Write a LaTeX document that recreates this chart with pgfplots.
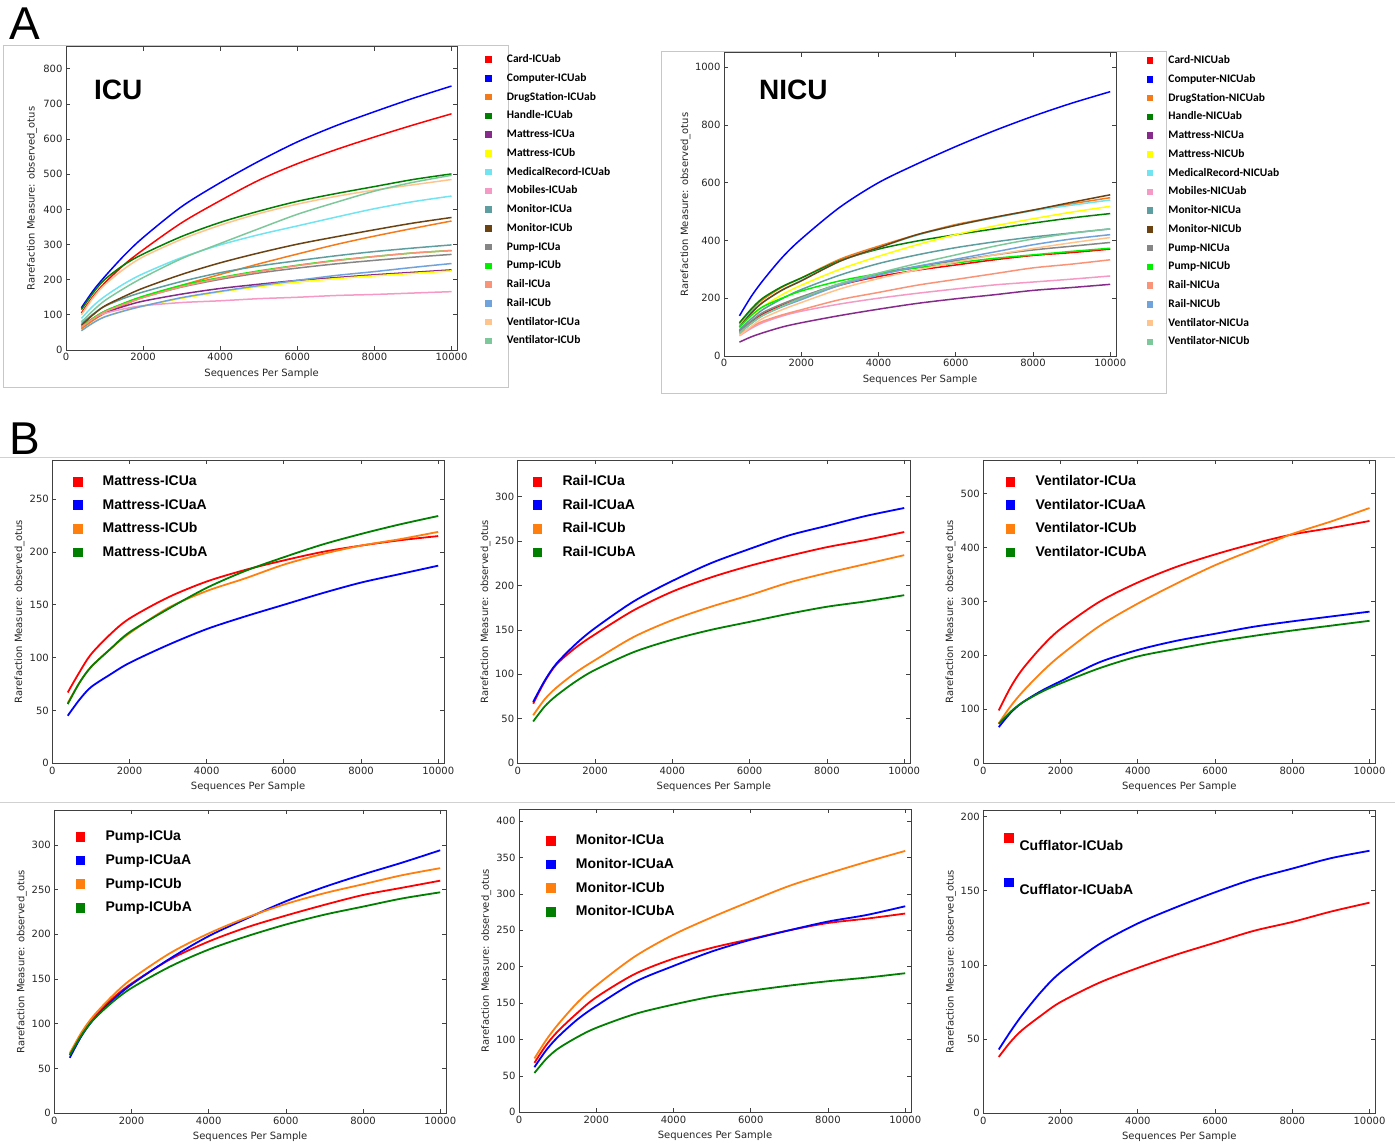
\documentclass[border=0pt]{standalone}
\usepackage{fontspec}
\setmainfont{DejaVu Sans}
\newfontfamily\carlito{Carlito}
\newfontfamily\libsans{Liberation Sans}
\usepackage{pgfplots}
\usepackage{pgfplotstable}
\pgfplotsset{compat=1.18}

\definecolor{cRed}{HTML}{FF0000}
\definecolor{cBlue}{HTML}{0000FF}
\definecolor{cOrange}{HTML}{F57A1A}
\definecolor{cOrB}{HTML}{FF7F0E}
\definecolor{cGreen}{HTML}{007F00}
\definecolor{cPurple}{HTML}{862A8C}
\definecolor{cYellow}{HTML}{FFFF00}
\definecolor{cCyan}{HTML}{70E4F0}
\definecolor{cPink}{HTML}{F49AC4}
\definecolor{cCadet}{HTML}{5F9EA0}
\definecolor{cBrown}{HTML}{6B4212}
\definecolor{cGray}{HTML}{868686}
\definecolor{cLime}{HTML}{00F000}
\definecolor{cSalmon}{HTML}{FA9478}
\definecolor{cLBlue}{HTML}{70A2DC}
\definecolor{cPeach}{HTML}{FFC48C}
\definecolor{cLGreen}{HTML}{7CC89A}

\pgfplotstableread{
x card comp drug hand matA matB med mob monA monB pumpA pumpB railA railB ventA ventB
400 105 120 60 115 65 55 90 70 75 70 65 65 65 55 100 80
700 152 168 84 162 88 77 125 90 102 100 90 90 88 77 148 112
1000 190 208 104 200 105 94 152 104 124 125 110 110 108 94 185 140
1500 242 268 128 242 124 111 188 117 147 152 132 133 130 111 230 175
2000 285 320 150 273 139 125 217 126 165 176 150 153 149 125 265 206
3000 362 408 184 323 159 147 263 135 195 215 179 184 180 149 315 260
4000 425 476 215 363 175 165 299 140 220 248 201 206 204 167 355 303
5000 483 537 245 395 187 180 328 146 239 276 219 225 223 183 388 345
6000 530 592 273 423 198 193 353 150 254 301 233 241 240 198 415 386
7000 570 638 300 445 206 203 378 155 268 322 245 255 254 212 437 420
8000 606 678 324 465 214 211 402 158 280 342 255 266 266 223 455 452
9000 640 716 346 485 221 218 422 162 290 361 264 276 276 235 470 477
10000 672 751 367 501 228 225 438 166 299 377 272 283 283 246 485 497
}\icu

\pgfplotstableread{
x card comp drug hand matA matB med mob monA monB pumpA pumpB railA railB ventA ventB
400 85 139 110 115 48 95 105 70 90 100 85 100 75 80 70 80
700 118 205 158 162 66 137 150 95 128 148 120 140 100 112 102 112
1000 145 260 195 200 80 170 185 115 160 185 150 170 120 140 130 140
1500 175 340 238 240 100 212 228 138 198 228 180 200 142 170 160 172
2000 200 405 270 270 115 245 262 155 230 260 205 225 160 195 185 200
3000 245 515 335 330 140 300 328 180 280 328 250 260 195 245 232 250
4000 275 600 380 370 162 345 375 200 320 375 285 285 220 280 268 287
5000 297 665 420 398 182 385 418 217 350 420 310 305 245 310 298 320
6000 315 725 455 420 198 420 452 232 375 452 330 322 265 335 325 350
7000 333 780 480 440 212 450 478 246 395 480 350 338 285 360 350 380
8000 348 830 505 460 227 475 503 256 412 505 367 350 305 385 372 405
9000 358 875 527 478 237 498 522 266 426 532 380 362 318 405 392 425
10000 370 915 548 493 248 518 540 277 440 558 393 373 333 420 410 440
}\nicu

\pgfplotstableread{
x a aA b bA
400 67 45 57 56
700 86 60 76 76
1000 103 72 91 91
1500 122 84 108 108
2000 137 95 123 124
3000 157 112 147 146
4000 172 127 163 166
5000 183 139 175 182
6000 192 150 188 195
7000 200 161 198 207
8000 206 171 206 217
9000 211 179 212 226
10000 215 187 219 234
}\mattress

\pgfplotstableread{
x a aA b bA
400 67 69 54 47
700 92 93 72 64
1000 111 112 85 76
1500 130 134 102 92
2000 145 152 116 105
3000 172 182 142 125
4000 193 205 161 139
5000 209 225 176 150
6000 222 241 189 159
7000 233 256 203 168
8000 243 267 214 176
9000 251 278 224 182
10000 260 287 234 189
}\rail

\pgfplotstableread{
x a aA b bA
400 98 67 74 73
700 140 93 105 95
1000 173 112 131 112
1500 215 134 168 132
2000 249 152 200 148
3000 299 187 254 176
4000 335 210 296 198
5000 364 227 333 212
6000 387 240 367 225
7000 407 253 396 236
8000 424 263 425 246
9000 436 272 448 255
10000 449 281 473 264
}\vent

\pgfplotstableread{
x a aA b bA
400 65 62 67 65
700 88 86 90 87
1000 106 104 108 104
1500 128 126 131 124
2000 145 144 150 140
3000 172 173 179 164
4000 192 198 201 183
5000 208 218 219 198
6000 221 237 234 211
7000 233 253 246 222
8000 244 267 256 231
9000 252 280 266 240
10000 260 294 274 247
}\pump

\pgfplotstableread{
x a aA b bA
400 68 62 74 54
700 92 85 99 73
1000 111 103 120 87
1500 136 127 150 103
2000 158 146 174 116
3000 190 179 214 135
4000 211 201 244 148
5000 226 221 268 159
6000 238 237 290 167
7000 250 250 311 174
8000 260 262 328 180
9000 266 271 344 185
10000 273 283 359 191
}\monitor

\pgfplotstableread{
x ab abA
400 38 43
700 48 55
1000 56 66
1500 66 82
2000 75 95
3000 88 114
4000 98 128
5000 107 139
6000 115 149
7000 123 158
8000 129 165
9000 136 172
10000 142 177
}\cuff

\pgfplotsset{
  rare/.style={
    scale only axis, anchor=south west,
    xmin=0, xmax=10150, ymin=0,
    xtick={0,2000,4000,6000,8000,10000},
    tick align=inside, major tick length=4pt,
    xtick pos=both, ytick pos=both,
    xticklabel pos=bottom, yticklabel pos=left,
    axis line style={black!75, line width=0.9pt},
    tick style={black!75, line width=0.7pt},
    scaled ticks=false,
    /pgf/number format/1000 sep={},
    /pgf/number format/assume math mode=true,
    tick label style={font=\fontsize{10}{12}\selectfont, text=black!85},
    xlabel={Sequences Per Sample},
    ylabel={Rarefaction Measure: observed\_otus},
    label style={font=\fontsize{10}{12}\selectfont, text=black!85},
    xlabel style={at={(axis description cs:0.5,-0.087)}, anchor=base},
    every axis plot/.append style={smooth, tension=0.5, line width=1.5pt, mark=none},
    legend cell align=left,
  },
  yl/.style={ylabel style={at={(axis description cs:#1,0.5)}, anchor=center}},
  alegend/.style={
    legend style={draw=none, fill=none, inner sep=0pt, outer sep=0pt,
      row sep=0pt, column sep=0pt, anchor=north west,
      font=\carlito\bfseries\fontsize{11.5}{12}\selectfont,
      nodes={inner sep=0pt, text height=12.375pt, text depth=6.375pt}},
    legend image code/.code={\fill[##1] (0pt,-2.5pt) rectangle (5pt,2.5pt);
      \path[draw=none,fill=none] (0pt,0pt) -- (21pt,0pt);},
  },
  blegend/.style={
    legend style={draw=none, fill=none, inner sep=0pt, outer sep=0pt,
      row sep=0pt, column sep=0pt, anchor=north west,
      font=\libsans\bfseries\fontsize{14}{16}\selectfont,
      nodes={inner sep=0pt, text height=15.8pt, text depth=7.8pt}},
    legend image code/.code={\fill[##1] (0pt,-4pt) rectangle (8pt,4pt);
      \path[draw=none,fill=none] (0pt,0pt) -- (29pt,0pt);},
    every axis plot/.append style={line width=1.8pt},
  },
  clegend/.style={
    legend style={draw=none, fill=none, inner sep=0pt, outer sep=0pt,
      row sep=0pt, column sep=0pt, anchor=north west,
      font=\libsans\bfseries\fontsize{14}{16}\selectfont,
      nodes={inner sep=0pt, text height=22.15pt, text depth=22.15pt}},
    legend image code/.code={\fill[##1] (0pt,8.4pt) rectangle (7.4pt,16.4pt);
      \path[draw=none,fill=none] (0pt,0pt) -- (14.4pt,0pt);},
    every axis plot/.append style={line width=1.8pt},
  },
}

\begin{document}
\begin{tikzpicture}[x=1pt,y=1pt]
\path[use as bounding box] (0,0) rectangle (1395,1147);

% panel frames and separators
\draw[black!22, line width=1pt] (3,1101) rectangle (508,759);
\draw[black!22, line width=1pt] (661,1095) rectangle (1166,753);
\draw[black!18, line width=1pt] (0,689) -- (1395,689);
\draw[black!18, line width=1pt] (0,344) -- (1395,344);

\node[anchor=base west, inner sep=0pt, font=\libsans\fontsize{46}{48}\selectfont] at (9,1107) {A};
\node[anchor=base west, inner sep=0pt, font=\libsans\fontsize{46}{48}\selectfont] at (9,692) {B};

% ---------------- ICU
\begin{axis}[rare, alegend, yl=-0.087, at={(66pt,797pt)}, width=391.3pt, height=303.3pt,
  ymax=863, ytick={0,100,...,800},
  legend style={at={(axis description cs:1.0713,0.9881)}}]
\addplot[cRed]    table[x=x,y=card]  {\icu}; \addlegendentry{Card-ICUab}
\addplot[cBlue]   table[x=x,y=comp]  {\icu}; \addlegendentry{Computer-ICUab}
\addplot[cOrange] table[x=x,y=drug]  {\icu}; \addlegendentry{DrugStation-ICUab}
\addplot[cGreen]  table[x=x,y=hand]  {\icu}; \addlegendentry{Handle-ICUab}
\addplot[cPurple] table[x=x,y=matA]  {\icu}; \addlegendentry{Mattress-ICUa}
\addplot[cYellow] table[x=x,y=matB]  {\icu}; \addlegendentry{Mattress-ICUb}
\addplot[cCyan]   table[x=x,y=med]   {\icu}; \addlegendentry{MedicalRecord-ICUab}
\addplot[cPink]   table[x=x,y=mob]   {\icu}; \addlegendentry{Mobiles-ICUab}
\addplot[cCadet]  table[x=x,y=monA]  {\icu}; \addlegendentry{Monitor-ICUa}
\addplot[cBrown]  table[x=x,y=monB]  {\icu}; \addlegendentry{Monitor-ICUb}
\addplot[cGray]   table[x=x,y=pumpA] {\icu}; \addlegendentry{Pump-ICUa}
\addplot[cLime]   table[x=x,y=pumpB] {\icu}; \addlegendentry{Pump-ICUb}
\addplot[cSalmon] table[x=x,y=railA] {\icu}; \addlegendentry{Rail-ICUa}
\addplot[cLBlue]  table[x=x,y=railB] {\icu}; \addlegendentry{Rail-ICUb}
\addplot[cPeach]  table[x=x,y=ventA] {\icu}; \addlegendentry{Ventilator-ICUa}
\addplot[cLGreen] table[x=x,y=ventB] {\icu}; \addlegendentry{Ventilator-ICUb}
\node[anchor=base west, inner sep=0pt, font=\libsans\bfseries\fontsize{28}{30}\selectfont]
  at (axis description cs:0.0716,0.8243) {ICU};
\end{axis}

% ---------------- NICU
\begin{axis}[rare, alegend, yl=-0.098, at={(724pt,791pt)}, width=392pt, height=303.3pt,
  ymax=1050, ytick={0,200,...,1000},
  legend style={at={(axis description cs:1.0783,1.0046)}}]
\addplot[cRed]    table[x=x,y=card]  {\nicu}; \addlegendentry{Card-NICUab}
\addplot[cBlue]   table[x=x,y=comp]  {\nicu}; \addlegendentry{Computer-NICUab}
\addplot[cOrange] table[x=x,y=drug]  {\nicu}; \addlegendentry{DrugStation-NICUab}
\addplot[cGreen]  table[x=x,y=hand]  {\nicu}; \addlegendentry{Handle-NICUab}
\addplot[cPurple] table[x=x,y=matA]  {\nicu}; \addlegendentry{Mattress-NICUa}
\addplot[cYellow] table[x=x,y=matB]  {\nicu}; \addlegendentry{Mattress-NICUb}
\addplot[cCyan]   table[x=x,y=med]   {\nicu}; \addlegendentry{MedicalRecord-NICUab}
\addplot[cPink]   table[x=x,y=mob]   {\nicu}; \addlegendentry{Mobiles-NICUab}
\addplot[cCadet]  table[x=x,y=monA]  {\nicu}; \addlegendentry{Monitor-NICUa}
\addplot[cBrown]  table[x=x,y=monB]  {\nicu}; \addlegendentry{Monitor-NICUb}
\addplot[cGray]   table[x=x,y=pumpA] {\nicu}; \addlegendentry{Pump-NICUa}
\addplot[cLime]   table[x=x,y=pumpB] {\nicu}; \addlegendentry{Pump-NICUb}
\addplot[cSalmon] table[x=x,y=railA] {\nicu}; \addlegendentry{Rail-NICUa}
\addplot[cLBlue]  table[x=x,y=railB] {\nicu}; \addlegendentry{Rail-NICUb}
\addplot[cPeach]  table[x=x,y=ventA] {\nicu}; \addlegendentry{Ventilator-NICUa}
\addplot[cLGreen] table[x=x,y=ventB] {\nicu}; \addlegendentry{Ventilator-NICUb}
\node[anchor=base west, inner sep=0pt, font=\libsans\bfseries\fontsize{28}{30}\selectfont]
  at (axis description cs:0.0893,0.844) {NICU};
\end{axis}

% ---------------- Mattress
\begin{axis}[rare, blegend, yl=-0.0837, at={(52.3pt,383.7pt)}, width=391.7pt, height=303.3pt,
  ymax=287, ytick={0,50,...,250},
  legend style={at={(axis description cs:0.0521,0.9672)}}]
\addplot[cRed]   table[x=x,y=a]  {\mattress}; \addlegendentry{Mattress-ICUa}
\addplot[cBlue]  table[x=x,y=aA] {\mattress}; \addlegendentry{Mattress-ICUaA}
\addplot[cOrB]   table[x=x,y=b]  {\mattress}; \addlegendentry{Mattress-ICUb}
\addplot[cGreen] table[x=x,y=bA] {\mattress}; \addlegendentry{Mattress-ICUbA}
\end{axis}

% ---------------- Rail
\begin{axis}[rare, blegend, yl=-0.082, at={(517.7pt,383.7pt)}, width=392.3pt, height=303.3pt,
  ymax=341, ytick={0,50,...,300},
  legend style={at={(axis description cs:0.0382,0.9672)}}]
\addplot[cRed]   table[x=x,y=a]  {\rail}; \addlegendentry{Rail-ICUa}
\addplot[cBlue]  table[x=x,y=aA] {\rail}; \addlegendentry{Rail-ICUaA}
\addplot[cOrB]   table[x=x,y=b]  {\rail}; \addlegendentry{Rail-ICUb}
\addplot[cGreen] table[x=x,y=bA] {\rail}; \addlegendentry{Rail-ICUbA}
\end{axis}

% ---------------- Ventilator
\begin{axis}[rare, blegend, yl=-0.0837, at={(983.3pt,383.7pt)}, width=392pt, height=303.3pt,
  ymax=562, ytick={0,100,...,500},
  legend style={at={(axis description cs:0.0571,0.9672)}}]
\addplot[cRed]   table[x=x,y=a]  {\vent}; \addlegendentry{Ventilator-ICUa}
\addplot[cBlue]  table[x=x,y=aA] {\vent}; \addlegendentry{Ventilator-ICUaA}
\addplot[cOrB]   table[x=x,y=b]  {\vent}; \addlegendentry{Ventilator-ICUb}
\addplot[cGreen] table[x=x,y=bA] {\vent}; \addlegendentry{Ventilator-ICUbA}
\end{axis}

% ---------------- Pump
\begin{axis}[rare, blegend, yl=-0.0833, at={(54.3pt,33.7pt)}, width=391.7pt, height=303.3pt,
  ymax=339, ytick={0,50,...,300},
  legend style={at={(axis description cs:0.0546,0.9499)}}]
\addplot[cRed]   table[x=x,y=a]  {\pump}; \addlegendentry{Pump-ICUa}
\addplot[cBlue]  table[x=x,y=aA] {\pump}; \addlegendentry{Pump-ICUaA}
\addplot[cOrB]   table[x=x,y=b]  {\pump}; \addlegendentry{Pump-ICUb}
\addplot[cGreen] table[x=x,y=bA] {\pump}; \addlegendentry{Pump-ICUbA}
\end{axis}

% ---------------- Monitor
\begin{axis}[rare, blegend, yl=-0.0834, at={(519pt,34.7pt)}, width=392pt, height=303.3pt,
  ymax=416.6, ytick={0,50,...,400},
  legend style={at={(axis description cs:0.0689,0.9334)}}]
\addplot[cRed]   table[x=x,y=a]  {\monitor}; \addlegendentry{Monitor-ICUa}
\addplot[cBlue]  table[x=x,y=aA] {\monitor}; \addlegendentry{Monitor-ICUaA}
\addplot[cOrB]   table[x=x,y=b]  {\monitor}; \addlegendentry{Monitor-ICUb}
\addplot[cGreen] table[x=x,y=bA] {\monitor}; \addlegendentry{Monitor-ICUbA}
\end{axis}

% ---------------- Cufflator
\begin{axis}[rare, clegend, yl=-0.0824, at={(983.3pt,33.7pt)}, width=392pt, height=303.3pt,
  ymax=204.5, ytick={0,50,...,200},
  legend style={at={(axis description cs:0.0536,0.939)}}]
\addplot[cRed]  table[x=x,y=ab]  {\cuff}; \addlegendentry{Cufflator-ICUab}
\addplot[cBlue] table[x=x,y=abA] {\cuff}; \addlegendentry{Cufflator-ICUabA}
\end{axis}
\end{tikzpicture}
\end{document}
